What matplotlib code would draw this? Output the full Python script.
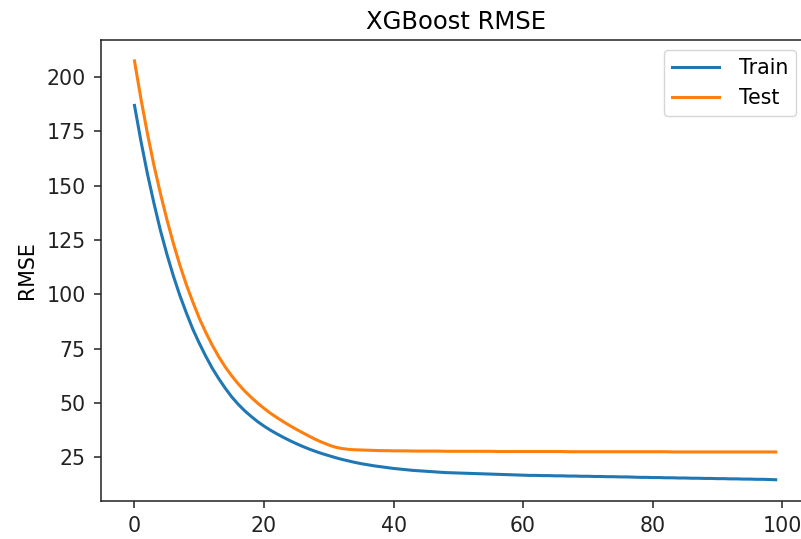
import matplotlib
matplotlib.use("Agg")
import matplotlib.pyplot as plt

# Boosting rounds and evaluation RMSE per round
rounds = list(range(100))

train_rmse = [
    187.0, 170.5, 155.5, 142.0, 129.5, 118.5, 108.5, 99.5, 91.5, 84.0,
    77.5, 71.5, 66.0, 61.2, 56.8, 52.8, 49.4, 46.4, 43.8, 41.4,
    39.3, 37.4, 35.7, 34.1, 32.6, 31.2, 29.9, 28.7, 27.6, 26.6,
    25.7, 24.8, 24.0, 23.3, 22.6, 22.0, 21.5, 21.0, 20.6, 20.2,
    19.8, 19.5, 19.2, 18.9, 18.7, 18.5, 18.3, 18.1, 17.9, 17.8,
    17.7, 17.6, 17.5, 17.4, 17.3, 17.2, 17.1, 17.0, 16.9, 16.8,
    16.7, 16.6, 16.6, 16.5, 16.5, 16.4, 16.4, 16.3, 16.3, 16.2,
    16.2, 16.1, 16.1, 16.0, 16.0, 15.9, 15.9, 15.8, 15.7, 15.7,
    15.6, 15.6, 15.5, 15.5, 15.4, 15.4, 15.3, 15.3, 15.2, 15.2,
    15.1, 15.1, 15.0, 15.0, 14.9, 14.9, 14.8, 14.8, 14.7, 14.6,
]

test_rmse = [
    207.5, 190.0, 174.0, 159.5, 146.5, 134.5, 123.5, 113.5, 104.5, 96.5,
    89.0, 82.5, 76.6, 71.3, 66.6, 62.5, 58.8, 55.5, 52.6, 49.9,
    47.5, 45.2, 43.2, 41.3, 39.5, 37.8, 36.2, 34.6, 33.1, 31.8,
    30.6, 29.6, 29.0, 28.6, 28.4, 28.3, 28.2, 28.1, 28.0, 28.0,
    27.9, 27.9, 27.9, 27.8, 27.8, 27.8, 27.8, 27.8, 27.7, 27.7,
    27.7, 27.7, 27.7, 27.7, 27.7, 27.7, 27.6, 27.6, 27.6, 27.6,
    27.6, 27.6, 27.6, 27.6, 27.6, 27.6, 27.6, 27.5, 27.5, 27.5,
    27.5, 27.5, 27.5, 27.5, 27.5, 27.5, 27.5, 27.5, 27.5, 27.5,
    27.5, 27.5, 27.5, 27.4, 27.4, 27.4, 27.4, 27.4, 27.4, 27.4,
    27.4, 27.4, 27.4, 27.4, 27.4, 27.4, 27.4, 27.4, 27.4, 27.4,
]

series_labels = ["Train", "Test"]
title_text = "XGBoost RMSE"
ylabel_text = "RMSE"

fs = 14.8
plt.rcParams["font.family"] = ["DejaVu Sans"]

fig = plt.figure(figsize=(8.01, 5.39), dpi=100)
# the plot area runs slightly past the right edge of the canvas
ax = fig.add_axes([0.1261, 0.0711, 0.8876, 0.8547])

ax.plot(rounds, train_rmse, color="#1f77b4", lw=2.2, label=series_labels[0])
ax.plot(rounds, test_rmse, color="#ff7f0e", lw=2.2, label=series_labels[1])

ax.set_xlim(-5.17, 104.6)
ax.set_title(title_text, fontsize=17.5, pad=8)
ax.set_ylabel(ylabel_text, fontsize=fs, labelpad=7)
ax.set_xticks([0, 20, 40, 60, 80, 100])
ax.set_yticks([25, 50, 75, 100, 125, 150, 175, 200])
ax.tick_params(labelsize=fs, length=5, width=1.1, colors="#222222", pad=6)
ax.spines["right"].set_visible(False)
for s in ax.spines.values():
    s.set_linewidth(1.1)
    s.set_color("#222222")

ax.legend(loc="upper right", fontsize=fs, frameon=True, handlelength=2.3,
          handletextpad=0.95, borderpad=0.4, labelspacing=0.45,
          bbox_to_anchor=(0.9925, 1.0))

fig.savefig("out.png", dpi=100)
